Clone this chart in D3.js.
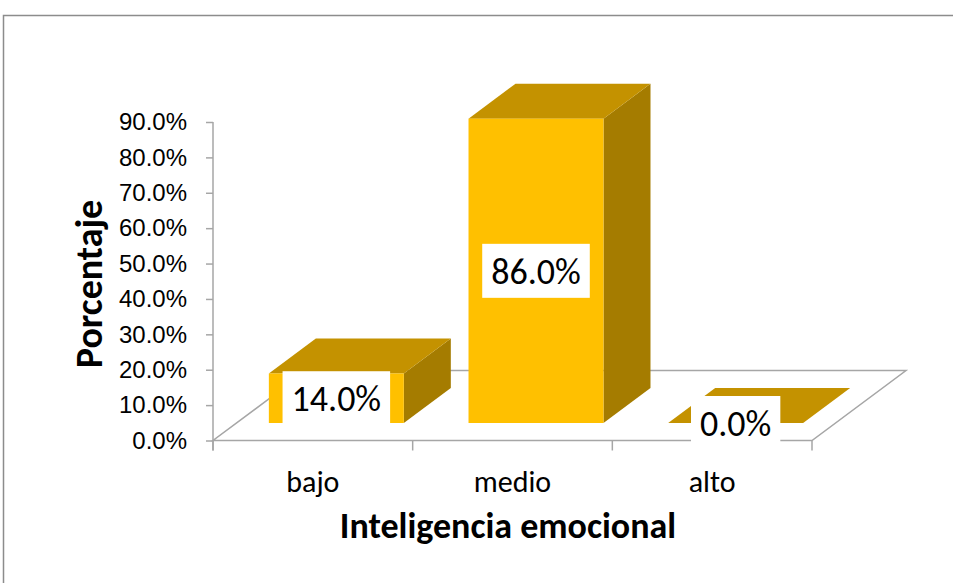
<!DOCTYPE html>
<html>
<head>
    <meta charset="utf-8">
    <style>
        body { margin: 0; background: white; }
        svg { display: block; font-family: Carlito, Lato, sans-serif; }
        .tick text { fill: #000; }
    </style>
</head>
<body>
<svg width="953" height="583"></svg>
<script src="https://d3js.org/d3.v7.min.js"></script>
<script>
    // data
    let categories = ["bajo", "medio", "alto"]
    let values = [14.0, 86.0, 0.0]
    let yTicks = [0, 10, 20, 30, 40, 50, 60, 70, 80, 90]

    let svg = d3.select("svg")

    // outer chart border (right and bottom run off the page)
    svg.append("rect")
        .attr("x", 3.5).attr("y", 15.5)
        .attr("width", 1200).attr("height", 1200)
        .style("fill", "none")
        .style("stroke", "#8c8c8c")
        .style("stroke-width", 1.5)

    let left = 213, right = 812
    let x = d3.scaleBand()
        .domain(categories)
        .range([left, right])
        .paddingInner(0.324)
        .paddingOuter(0.162)

    let y = d3.scaleLinear()
        .domain([0, 90])
        .range([440.5, 122])

    // depth of the floor (3d offset)
    let dx = 94, dy = -70

    // floor
    let floor = svg.append("g")
    floor.append("path")
        .attr("d", `M${left},${y(0)} L${right},${y(0)} L${right + dx},${y(0) + dy} L${left + dx},${y(0) + dy} Z`)
        .style("fill", "none")
        .style("stroke", "#a6a6a6")
        .style("stroke-width", 1.5)

    // y axis
    let yAxis = svg.append("g")
        .attr("transform", `translate(${left},0)`)
        .call(d3.axisLeft(y).tickValues(yTicks).tickSize(7).tickPadding(19)
            .tickFormat(d => d3.format(".1f")(d) + "%"))
    yAxis.selectAll("line").style("stroke", "#a6a6a6").style("stroke-width", 1.5)
    yAxis.select(".domain").remove()
    yAxis.append("line")
        .attr("x1", 0).attr("x2", 0)
        .attr("y1", y(90)).attr("y2", y(0) + 10)
        .style("stroke", "#a6a6a6").style("stroke-width", 1.5)
    yAxis.selectAll("text").style("font-size", "24px")

    // x ticks between categories
    let xTickPos = [left].concat(categories.map(c => x(c) + x.bandwidth() + x.step() * x.paddingInner() / 2))
    svg.append("g").selectAll("line")
        .data(xTickPos)
        .join("line")
        .attr("x1", d => d).attr("x2", d => d)
        .attr("y1", y(0)).attr("y2", y(0) + 10)
        .style("stroke", "#a6a6a6").style("stroke-width", 1.5)

    svg.append("g").selectAll("text")
        .data(categories)
        .join("text")
        .attr("x", d => x(d) + x.bandwidth() / 2)
        .attr("y", 492)
        .attr("text-anchor", "middle")
        .style("font-size", "30px")
        .text(d => d)

    // bars
    let fx = dx * 0.25, fy = dy * 0.25   // front face offset
    let bx = dx * 0.5, by = dy * 0.5     // bar depth
    let bw = x.bandwidth()
    let bars = svg.append("g").selectAll("g")
        .data(categories.map((c, i) => ({ cat: c, value: values[i] })))
        .join("g")

    bars.append("path")
        .attr("d", d => {
            let x0 = x(d.cat) + fx + bw, yt = y(d.value) + fy, yb = y(0) + fy
            return `M${x0},${yt} L${x0 + bx},${yt + by} L${x0 + bx},${yb + by} L${x0},${yb} Z`
        })
        .style("fill", "#a57c00")

    bars.append("path")
        .attr("d", d => {
            let x0 = x(d.cat) + fx, yt = y(d.value) + fy
            return `M${x0},${yt} L${x0 + bw},${yt} L${x0 + bw + bx},${yt + by} L${x0 + bx},${yt + by} Z`
        })
        .style("fill", "#c49200")

    bars.append("rect")
        .attr("x", d => x(d.cat) + fx)
        .attr("y", d => y(d.value) + fy)
        .attr("width", bw)
        .attr("height", d => y(0) - y(d.value))
        .style("fill", "#ffc000")

    // value labels in white boxes
    bars.each(function (d) {
        let g = d3.select(this)
        let cx = x(d.cat) + fx + bw / 2
        let cy = (y(d.value) + y(0)) / 2 + fy
        let box = g.append("rect").style("fill", "white")
        let t = g.append("text")
            .attr("x", cx)
            .attr("y", cy + 13)
            .attr("text-anchor", "middle")
            .style("font-size", "36px")
            .text(d3.format(".1f")(d.value) + "%")
        let w = t.node().getBBox().width + 18
        box.attr("x", cx - w / 2).attr("y", cy - 27).attr("width", w).attr("height", 54)
    })

    // axis titles
    svg.append("text")
        .attr("transform", "translate(102,284) rotate(-90)")
        .attr("text-anchor", "middle")
        .style("font-size", "38px")
        .style("font-weight", "bold")
        .text("Porcentaje")

    svg.append("text")
        .attr("x", 508)
        .attr("y", 538)
        .attr("text-anchor", "middle")
        .style("font-size", "36px")
        .style("font-weight", "bold")
        .text("Inteligencia emocional")
</script>
</body>
</html>
